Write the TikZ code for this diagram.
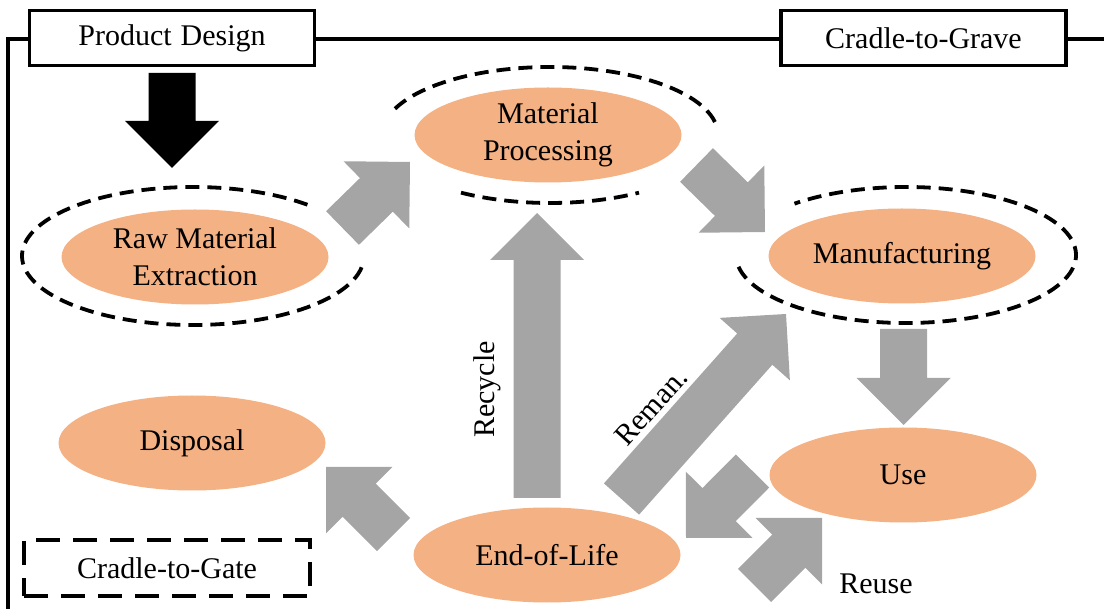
\documentclass[tikz,border=0pt]{standalone}
\usepackage{fontspec}
\setmainfont{Liberation Serif}
\usetikzlibrary{shapes.geometric,calc}

\definecolor{stagefill}{HTML}{F4B183}
\definecolor{flowgray}{HTML}{A5A5A5}

% dimensions shared by every block arrow
\newcommand{\arrShaft}{23.5pt}
\newcommand{\arrHead}{47pt}
\newcommand{\arrLen}{47pt}
% \blockarrow[fill]{tail}{tip}: wide arrow with a right-angled head
\newcommand{\blockarrow}[3][flowgray]{%
  \coordinate (ba-base) at ($(#3)!\arrLen!(#2)$);
  \fill[#1] ($(#2)!\arrShaft!90:(#3)$)
    -- ($(ba-base)!\arrShaft!90:(#3)$)
    -- ($(ba-base)!\arrHead!90:(#3)$)
    -- (#3)
    -- ($(ba-base)!\arrHead!-90:(#3)$)
    -- ($(ba-base)!\arrShaft!-90:(#3)$)
    -- ($(#2)!\arrShaft!-90:(#3)$) -- cycle;}

\begin{document}
\begin{tikzpicture}[x=1pt, y=-1pt,
  font=\fontsize{30}{37}\selectfont,
  stage/.style={ellipse, fill=stagefill, minimum width=267pt, minimum height=95pt,
    inner sep=0pt, align=center},
  titlebox/.style={draw, line width=3.5pt, fill=white, minimum width=285pt,
    minimum height=55pt, inner sep=0pt},
  gatebox/.style={draw, line width=4.5pt, dash pattern=on 24pt off 13pt,
    minimum width=286pt, minimum height=56pt, inner sep=0pt},
  ring/.style={draw, line width=3.8pt, dash pattern=on 14pt off 8pt},
  frame/.style={line width=3.5pt}]

\useasboundingbox (0,0) rectangle (1104,609);

% outer system boundary
\draw[frame] (8,609) -- (8,39) -- (1104,39);

% boundary labels
\node[titlebox] (design) at (172,38) {Product\hspace{0.3em}Design};
\node[titlebox] (grave) at (923.5,38) {Cradle-to-Grave};
\node[gatebox] (gate) at (167,568) {Cradle-to-Gate};

% life-cycle stages
\node[stage] (raw)  at (195,257) {Raw Material\\Extraction};
\node[stage] (proc) at (548,135) {Material\\Processing};
\node[stage] (manu) at (902,256) {Manufacturing};
\node[stage] (use)  at (903,475) {Use};
\node[stage] (eol)  at (547,555) {End-of-Life};
\node[stage] (disp) at (192,443) {Disposal};

% dashed cradle-to-gate rings (open where arrows pass)
\coordinate (rawring)  at (193,256);
\coordinate (procring) at (550,135);
\coordinate (manuring) at (906,255);
\draw[ring] ($(rawring)+(48:171pt and 69pt)$)
  arc[start angle=48, end angle=353, x radius=171pt, y radius=69pt];
\draw[ring] ($(procring)+(11:168pt and 68pt)$)
  arc[start angle=11, end angle=162, x radius=168pt, y radius=68pt];
\draw[ring] ($(procring)+(238:168pt and 68pt)$)
  arc[start angle=238, end angle=302, x radius=168pt, y radius=68pt];
\draw[ring] ($(manuring)+(-170:170pt and 68pt)$)
  arc[start angle=-170, end angle=131, x radius=170pt, y radius=68pt];

% arrow end points
\coordinate (dzT) at (172,73);     \coordinate (dzH) at (172,168);
\coordinate (rpT) at (342.5,228);  \coordinate (rpH) at (410,162);
\coordinate (pmT) at (696.5,165);  \coordinate (pmH) at (765,232);
\coordinate (rcT) at (537,498);    \coordinate (rcH) at (537,213);
\coordinate (muT) at (903.5,329);  \coordinate (muH) at (903.5,425);
\coordinate (rmT) at (621.5,499);  \coordinate (rmH) at (786,314);
\coordinate (edT) at (393.5,534.5);\coordinate (edH) at (326,467);
\coordinate (ueT) at (752.5,471);  \coordinate (ueH) at (686,538);
\coordinate (euT) at (754.5,585.5);\coordinate (euH) at (822,518);

% flows
\blockarrow[black]{dzT}{dzH}
\blockarrow{rpT}{rpH}
\blockarrow{pmT}{pmH}
\blockarrow{rcT}{rcH}
\blockarrow{muT}{muH}
\blockarrow{rmT}{rmH}
\blockarrow{edT}{edH}
\blockarrow{ueT}{ueH}
\blockarrow{euT}{euH}

% flow labels
\node[rotate=90] (recycle) at (487.5,389.5) {Recycle};
\node[rotate=48] (reman) at (651,407) {Reman.};
\node (reuse) at (876,584) {Reuse};
\end{tikzpicture}
\end{document}
